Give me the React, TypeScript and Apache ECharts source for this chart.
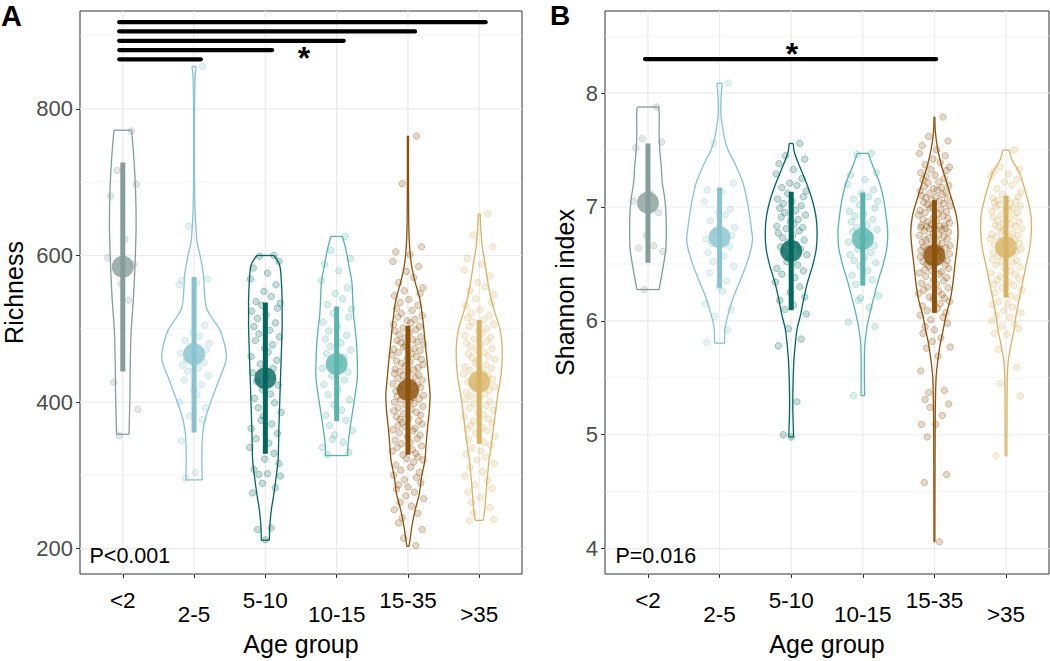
import React, { useEffect, useRef } from 'react';
import * as echarts from 'echarts';

const CATEGORIES = ['<2', '2-5', '5-10', '10-15', '15-35', '>35'];
const COLORS = ['#869E99', '#8AC3CF', '#01665E', '#5AB4AC', '#8C510A', '#D8B365'];
const FONT = "'Liberation Sans', Arial, Helvetica, sans-serif";

// Panel A (Richness)
const A_Y_TICKS = [200, 400, 600, 800];
const A_Y_MINOR = [300, 500, 700, 900];
const A_MEAN = [584.7, 465.1, 432.5, 452, 416.3, 427.7];
const A_LO = [441.6, 358.5, 329.5, 373.8, 328.1, 343];
const A_HI = [726.8, 570.6, 535.9, 530.4, 504, 511.9];
const A_SIG = [[0.95, 6.09, 918.4], [0.95, 5.1, 905.8], [0.95, 4.1, 893], [0.95, 3.095, 880.4], [0.95, 2.095, 867.8]];

const VA_LT2 = [[771, 0.124], [731, 0.157], [686, 0.18], [641, 0.187], [596, 0.175], [551, 0.155], [528, 0.14], [496, 0.117], [451, 0.105], [406, 0.1], [356, 0.087]];
const VA_2_5 = [[857.9, 0.03], [845, 0.015], [800, 0.007], [700, 0.007], [660, 0.015], [640, 0.025], [619, 0.042], [596, 0.093], [573, 0.133], [550, 0.145], [528, 0.175], [515, 0.25], [496, 0.374], [460, 0.453], [428, 0.34], [406, 0.257], [383, 0.175], [361, 0.126], [338, 0.112], [315, 0.11], [293.7, 0.115]];
const VA_5_10 = [[600, 0.12], [587, 0.2], [564, 0.225], [541, 0.235], [519, 0.235], [500, 0.235], [455, 0.22], [410, 0.205], [365, 0.19], [320, 0.178], [297, 0.15], [275, 0.12], [252, 0.083], [230, 0.062], [211.4, 0.057]];
const VA_10_15 = [[626, 0.08], [609, 0.128], [587, 0.17], [564, 0.213], [541, 0.225], [519, 0.237], [500, 0.26], [478, 0.28], [455, 0.29], [433, 0.29], [410, 0.26], [388, 0.225], [365, 0.19], [342, 0.16], [327, 0.156]];
const VA_15_35 = [[763, 0.008], [700, 0.008], [640, 0.012], [610, 0.025], [587, 0.05], [564, 0.1], [541, 0.166], [519, 0.2], [500, 0.223], [478, 0.245], [455, 0.27], [433, 0.29], [410, 0.31], [388, 0.3], [365, 0.275], [342, 0.255], [320, 0.237], [297, 0.19], [275, 0.16], [252, 0.1], [230, 0.055], [211, 0.028], [203, 0.015]];
const VA_GT35 = [[656.7, 0.014], [632, 0.024], [609, 0.047], [587, 0.085], [564, 0.12], [541, 0.166], [519, 0.23], [500, 0.29], [478, 0.32], [455, 0.32], [433, 0.3], [410, 0.26], [388, 0.23], [365, 0.2], [342, 0.17], [320, 0.137], [297, 0.114], [275, 0.095], [252, 0.076], [238.5, 0.055]];

const A_LT2 = [770, 716, 697, 681, 622, 597, 588, 561, 539, 427, 390, 354];
const A_2_5 = [858, 640, 568, 566, 563, 560, 505, 495, 490, 484, 480, 476, 471, 467, 462, 458, 454, 450, 446, 442, 436, 430, 424, 416, 410, 400, 392, 381, 376, 347, 304, 296];
const A_5_10 = [600, 599, 592, 583, 576, 568, 560, 551, 544, 537, 535, 532, 528, 524, 519, 514, 508, 503, 498, 493, 489, 484, 478, 473, 468, 462, 457, 452, 446, 440, 434, 428, 423, 417, 411, 405, 399, 392, 386, 381, 375, 370, 364, 357, 350, 344, 338, 330, 322, 316, 308, 302, 301, 299, 289, 283, 276, 228, 226, 212];
const A_10_15 = [626, 607, 596, 588, 579, 566, 556, 548, 541, 533, 527, 521, 516, 509, 503, 497, 491, 486, 481, 476, 471, 466, 461, 456, 451, 446, 441, 436, 430, 424, 417, 410, 403, 396, 389, 382, 375, 368, 361, 355, 349, 345, 338, 331, 328];
const A_15_35 = [763, 698, 612, 605, 601, 592, 585, 578, 570, 563, 556, 552, 548, 545, 540, 536, 532, 528, 525, 521,
  518, 516, 513, 511, 508, 506, 503, 501, 499, 497, 494, 492, 489, 487, 485, 484, 482, 481,
  479, 477, 475, 473, 472, 470, 468, 466, 464, 462, 460, 458, 456, 455, 453, 451, 449, 447, 445, 444, 442, 441,
  439, 437, 436, 434, 432, 430, 429, 427, 425, 423, 422, 420, 418, 416, 415, 413, 411, 409, 408, 406, 404, 403, 401, 400,
  398, 396, 394, 392, 390, 388, 386, 384, 382, 380, 378, 376, 374, 372, 370, 368, 366, 364, 362, 361,
  358, 355, 353, 350, 348, 345, 343, 340, 338, 335, 333, 330, 328, 325, 323, 321,
  318, 314, 311, 307, 304, 300, 297, 294, 290, 287, 284, 281, 277, 272, 268, 263, 258, 253, 248, 242, 235, 226, 214, 204];
const A_GT35 = [657, 628, 612, 596, 588, 580, 572, 563, 557, 552, 547, 541, 536, 531, 526, 521,
  518, 515, 512, 509, 506, 503, 500, 497, 494, 491, 488, 486, 483, 481,
  478, 476, 473, 471, 468, 466, 463, 461, 458, 456, 453, 451, 448, 446, 443, 441,
  438, 436, 433, 431, 428, 426, 423, 421, 418, 416, 413, 411, 408, 406, 403, 401,
  398, 395, 392, 389, 386, 383, 380, 377, 374, 371, 368, 365, 363, 361,
  357, 353, 349, 345, 341, 337, 333, 329, 325, 321, 316, 311, 305, 299, 293, 287, 282, 277, 270, 263, 256, 249, 240, 238];

// Panel B (Shannon index)
const B_Y_TICKS = [4, 5, 6, 7, 8];
const B_Y_MINOR = [4.5, 5.5, 6.5, 7.5, 8.5];
const B_MEAN = [7.037, 6.735, 6.613, 6.72, 6.574, 6.647];
const B_LO = [6.51, 6.29, 6.094, 6.31, 6.07, 6.205];
const B_HI = [7.558, 7.171, 7.133, 7.127, 7.06, 7.098];
const B_SIG = [[0.958, 5.024, 8.299]];

const VB_LT2 = [[7.878, 0.15], [7.8, 0.158], [7.65, 0.155], [7.5, 0.165], [7.36, 0.185], [7.215, 0.2], [7.07, 0.235], [6.924, 0.253], [6.778, 0.255], [6.633, 0.25], [6.487, 0.215], [6.342, 0.175], [6.275, 0.155]];
const VB_2_5 = [[8.087, 0.037], [8.0, 0.025], [7.9, 0.018], [7.8, 0.02], [7.71, 0.04], [7.6, 0.07], [7.505, 0.116], [7.36, 0.23], [7.215, 0.325], [7.07, 0.38], [6.924, 0.42], [6.778, 0.45], [6.72, 0.46], [6.633, 0.44], [6.487, 0.37], [6.342, 0.28], [6.197, 0.186], [6.05, 0.116], [5.935, 0.077], [5.804, 0.07]];
const VB_5_10 = [[7.558, 0.028], [7.476, 0.046], [7.36, 0.116], [7.215, 0.21], [7.07, 0.29], [6.924, 0.344], [6.778, 0.362], [6.633, 0.35], [6.487, 0.3], [6.342, 0.23], [6.197, 0.176], [6.05, 0.13], [5.935, 0.084], [5.79, 0.056], [5.644, 0.037], [5.5, 0.028], [5.353, 0.023], [5.208, 0.023], [5.06, 0.03], [4.98, 0.033]];
const VB_10_15 = [[7.471, 0.077], [7.36, 0.14], [7.215, 0.232], [7.07, 0.29], [6.924, 0.325], [6.778, 0.348], [6.633, 0.334], [6.487, 0.28], [6.342, 0.21], [6.197, 0.15], [6.05, 0.093], [5.935, 0.056], [5.79, 0.028], [5.644, 0.023], [5.5, 0.023], [5.344, 0.025]];
const VB_15_35 = [[7.79, 0.005], [7.65, 0.015], [7.505, 0.046], [7.36, 0.1], [7.217, 0.17], [7.07, 0.24], [6.923, 0.306], [6.78, 0.33], [6.633, 0.313], [6.487, 0.285], [6.34, 0.26], [6.197, 0.225], [6.05, 0.163], [5.9, 0.116], [5.79, 0.079], [5.644, 0.046], [5.5, 0.023], [5.2, 0.012], [4.8, 0.009], [4.4, 0.007], [4.06, 0.006]];
const VB_GT35 = [[7.5, 0.046], [7.42, 0.08], [7.3, 0.186], [7.217, 0.232], [7.07, 0.3], [6.923, 0.348], [6.78, 0.353], [6.633, 0.33], [6.487, 0.28], [6.34, 0.232], [6.197, 0.186], [6.05, 0.14], [5.935, 0.116], [5.79, 0.07], [5.644, 0.03], [5.5, 0.018], [5.3, 0.014], [4.815, 0.012]];

const B_LT2 = [7.878, 7.6, 7.57, 7.52, 7.12, 7.05, 6.95, 6.75, 6.66, 6.64, 6.61, 6.275];
const B_2_5 = [8.087, 7.56, 7.21, 7.15, 7.13, 7.05, 6.98, 6.95, 6.93, 6.88, 6.82, 6.78, 6.75, 6.72, 6.7, 6.68, 6.65, 6.6, 6.57, 6.52, 6.48, 6.42, 6.35, 6.3, 6.26, 6.15, 6.1, 6.04, 5.92, 5.81];
const B_5_10 = [7.558, 7.45, 7.42, 7.38, 7.33, 7.29, 7.25, 7.21, 7.19, 7.17, 7.14, 7.12, 7.09, 7.07, 7.05, 7.03, 7.01,
  6.99, 6.97, 6.95, 6.93, 6.91, 6.89, 6.87, 6.85, 6.83, 6.82, 6.81, 6.79, 6.77, 6.75, 6.73, 6.71, 6.69, 6.67, 6.65, 6.63, 6.61,
  6.58, 6.55, 6.52, 6.49, 6.46, 6.44, 6.41, 6.38, 6.34, 6.3, 6.25, 6.21, 6.18, 6.14, 6.1, 6.06, 5.93, 5.84, 5.78, 5.29, 5.0, 4.98];
const B_10_15 = [7.471, 7.46, 7.3, 7.28, 7.24, 7.2, 7.15, 7.12, 7.09, 7.07, 7.05, 7.02, 6.99, 6.96, 6.94, 6.92,
  6.89, 6.87, 6.84, 6.82, 6.8, 6.78, 6.75, 6.73, 6.71, 6.69, 6.66, 6.63, 6.6, 6.58, 6.55, 6.53, 6.51,
  6.48, 6.44, 6.4, 6.36, 6.32, 6.22, 6.2, 6.18, 6.12, 5.99, 5.95, 5.344];
const B_15_35 = [7.79, 7.62, 7.58, 7.54, 7.5, 7.47, 7.45, 7.42,
  7.39, 7.37, 7.35, 7.33, 7.32, 7.3, 7.28, 7.27, 7.25, 7.24, 7.22, 7.21,
  7.19, 7.18, 7.17, 7.16, 7.15, 7.14, 7.13, 7.12, 7.11, 7.1, 7.09, 7.08, 7.07, 7.06, 7.05, 7.04, 7.03, 7.02, 7.01, 7.0,
  6.99, 6.98, 6.97, 6.96, 6.95, 6.94, 6.93, 6.92, 6.91, 6.9, 6.89, 6.88, 6.87, 6.86, 6.85, 6.84, 6.84, 6.83, 6.83, 6.82, 6.82, 6.81, 6.81, 6.8,
  6.79, 6.78, 6.77, 6.76, 6.75, 6.74, 6.73, 6.72, 6.71, 6.7, 6.69, 6.68, 6.67, 6.66, 6.65, 6.64, 6.64, 6.63, 6.62, 6.62, 6.61, 6.6,
  6.59, 6.58, 6.57, 6.56, 6.55, 6.54, 6.53, 6.52, 6.51, 6.5, 6.49, 6.48, 6.46, 6.45, 6.44, 6.43, 6.42, 6.41,
  6.39, 6.38, 6.36, 6.35, 6.33, 6.32, 6.3, 6.29, 6.27, 6.26, 6.24, 6.23, 6.21, 6.2,
  6.19, 6.17, 6.15, 6.13, 6.11, 6.09, 6.07, 6.05, 6.03, 6.01, 5.98, 5.95, 5.92, 5.89, 5.85, 5.82,
  5.77, 5.76, 5.69, 5.56, 5.39, 5.37, 5.31, 5.27, 5.24, 5.17, 5.09, 5.09, 4.98, 4.65, 4.58, 4.06];
const B_GT35 = [7.5, 7.35, 7.33, 7.31, 7.29, 7.27, 7.24, 7.22, 7.19, 7.16, 7.13, 7.11,
  7.09, 7.08, 7.07, 7.06, 7.05, 7.04, 7.03, 7.02, 7.01, 7.0, 6.99, 6.98, 6.97, 6.96, 6.95, 6.93, 6.92, 6.91,
  6.89, 6.88, 6.87, 6.86, 6.85, 6.84, 6.83, 6.82, 6.81, 6.8, 6.79, 6.77, 6.76, 6.75, 6.74, 6.73, 6.72, 6.71,
  6.69, 6.68, 6.67, 6.66, 6.65, 6.63, 6.62, 6.61, 6.6, 6.58, 6.57, 6.56, 6.54, 6.53, 6.52, 6.51,
  6.49, 6.47, 6.46, 6.44, 6.42, 6.41, 6.39, 6.37, 6.36, 6.34, 6.32, 6.31,
  6.29, 6.27, 6.25, 6.22, 6.2, 6.17, 6.15, 6.14, 6.12, 6.09, 6.07, 6.05, 6.03, 6.0, 5.97, 5.95, 5.93,
  5.89, 5.88, 5.75, 5.59, 5.45, 5.34, 4.815];

// horizontal jitter offsets (position noise, in category units)
const JITTER = [
  0.12, -0.08, 0.19, -0.17, 0.03, -0.21, 0.15, -0.02, 0.08, -0.13,
  0.21, -0.05, 0.17, -0.19, 0.01, -0.11, 0.14, -0.16, 0.06, -0.09,
  0.2, -0.14, 0.1, -0.01, 0.04, -0.2, 0.16, -0.07, 0.11, -0.18,
  0.02, -0.12, 0.18, -0.04, 0.07, -0.15, 0.13, -0.1, 0.22, -0.03,
  -0.06, 0.09, -0.2, 0.17, -0.13, 0.05, -0.22, 0.12, -0.01, 0.19,
  -0.16, 0.03, -0.09, 0.21, -0.04, 0.14, -0.18, 0.08, -0.11, 0.0,
  -0.19, 0.15, -0.07, 0.1, -0.14, 0.2, -0.02, 0.06, -0.21, 0.13,
  -0.08, 0.18, -0.12, 0.04, -0.17, 0.11, -0.05, 0.22, -0.15, 0.07,
  0.16, -0.1, 0.02, -0.19, 0.09, -0.03, 0.21, -0.13, 0.05, -0.2,
  0.12, -0.06, 0.18, -0.16, 0.01, -0.11, 0.15, -0.08, 0.2, -0.14,
  -0.04, 0.1, -0.21, 0.07, -0.12, 0.17, -0.01, 0.13, -0.18, 0.03,
  -0.09, 0.19, -0.15, 0.06, -0.22, 0.11, -0.07, 0.14, -0.02, 0.21,
  0.08, -0.17, 0.04, -0.1, 0.16, -0.2, 0.12, -0.05, 0.18, -0.13,
  0.0, -0.16, 0.09, -0.03, 0.22, -0.11, 0.05, -0.19, 0.14, -0.08,
  -0.13, 0.2, -0.06, 0.11, -0.18, 0.02, -0.1, 0.17, -0.14, 0.07,
  0.15, -0.21, 0.03, -0.07, 0.19, -0.12, 0.1, -0.04, 0.13, -0.17
];

function rgba(hex: string, a: number) {
  const n = parseInt(hex.slice(1), 16);
  return `rgba(${(n >> 16) & 255},${(n >> 8) & 255},${n & 255},${a})`;
}

function buildPanel(p: any) {
  const { xi, yi, yMin, yMax, ticks, minor, violins, points, mean, lo, hi, sig, star, pText, pPos } = p;
  const series: any[] = [];
  // grid lines
  series.push({
    type: 'custom', xAxisIndex: xi, yAxisIndex: yi, z: 1, silent: true, clip: false,
    data: [[3.5, (yMin + yMax) / 2]],
    renderItem: (params: any, api: any) => {
      const children: any[] = [];
      minor.forEach((v: number) => {
        if (v < yMin || v > yMax) return;
        const a = api.coord([0.4, v]); const b = api.coord([6.6, v]);
        children.push({ type: 'line', shape: { x1: a[0], y1: a[1], x2: b[0], y2: b[1] }, style: { stroke: '#EBEBEB', lineWidth: 0.6 } });
      });
      ticks.forEach((v: number) => {
        const a = api.coord([0.4, v]); const b = api.coord([6.6, v]);
        children.push({ type: 'line', shape: { x1: a[0], y1: a[1], x2: b[0], y2: b[1] }, style: { stroke: '#EBEBEB', lineWidth: 1.2 } });
      });
      for (let g = 1; g <= 6; g++) {
        const a = api.coord([g, yMin]); const b = api.coord([g, yMax]);
        children.push({ type: 'line', shape: { x1: a[0], y1: a[1], x2: b[0], y2: b[1] }, style: { stroke: '#EBEBEB', lineWidth: 1.2 } });
      }
      return { type: 'group', children };
    }
  });
  // violins
  series.push({
    type: 'custom', xAxisIndex: xi, yAxisIndex: yi, z: 2, silent: true,
    data: CATEGORIES.map((_, i) => [i + 1, mean[i]]),
    renderItem: (params: any, api: any) => {
      const i = params.dataIndex; const g = i + 1; const prof = violins[i];
      const left = prof.map((d: number[]) => api.coord([g - d[1], d[0]]));
      const right = prof.map((d: number[]) => api.coord([g + d[1], d[0]]));
      const st = { stroke: COLORS[i], lineWidth: 1.3, fill: 'none' };
      const n = prof.length - 1;
      return {
        type: 'group', children: [
          { type: 'polyline', shape: { points: left, smooth: 0.3 }, style: st },
          { type: 'polyline', shape: { points: right, smooth: 0.3 }, style: st },
          { type: 'line', shape: { x1: left[0][0], y1: left[0][1], x2: right[0][0], y2: right[0][1] }, style: st },
          { type: 'line', shape: { x1: left[n][0], y1: left[n][1], x2: right[n][0], y2: right[n][1] }, style: st }
        ]
      };
    }
  });
  // jittered points
  points.forEach((ys: number[], i: number) => {
    series.push({
      type: 'scatter', xAxisIndex: xi, yAxisIndex: yi, z: 3, silent: true, symbolSize: 6.5,
      itemStyle: { color: rgba(COLORS[i], 0.28), borderColor: rgba(COLORS[i], 0.5), borderWidth: 0.8 },
      data: ys.map((y, k) => [i + 1 + JITTER[k % JITTER.length], y])
    });
  });
  // error bars
  series.push({
    type: 'custom', xAxisIndex: xi, yAxisIndex: yi, z: 4, silent: true,
    encode: { x: 0, y: [1, 2] },
    data: CATEGORIES.map((_, i) => [i + 1, lo[i], hi[i]]),
    renderItem: (params: any, api: any) => {
      const a = api.coord([api.value(0), api.value(1)]);
      const b = api.coord([api.value(0), api.value(2)]);
      return { type: 'line', shape: { x1: a[0], y1: a[1], x2: b[0], y2: b[1] }, style: { stroke: COLORS[params.dataIndex], lineWidth: 5 } };
    }
  });
  // means
  series.push({
    type: 'scatter', xAxisIndex: xi, yAxisIndex: yi, z: 5, silent: true, symbolSize: 22,
    data: CATEGORIES.map((_, i) => ({ value: [i + 1, mean[i]], itemStyle: { color: COLORS[i] } }))
  });
  // significance bars
  series.push({
    type: 'custom', xAxisIndex: xi, yAxisIndex: yi, z: 6, silent: true, clip: false,
    encode: { x: [0, 1], y: 2 },
    data: sig,
    renderItem: (params: any, api: any) => {
      const a = api.coord([api.value(0), api.value(2)]);
      const b = api.coord([api.value(1), api.value(2)]);
      return { type: 'line', shape: { x1: a[0], y1: a[1], x2: b[0], y2: b[1] }, style: { stroke: '#000', lineWidth: 4.2, lineCap: 'round' } };
    }
  });
  // texts
  series.push({
    type: 'custom', xAxisIndex: xi, yAxisIndex: yi, z: 7, silent: true, clip: false,
    data: [[star[0], star[1], 0], [pPos[0], pPos[1], 1]],
    renderItem: (params: any, api: any) => {
      const c = api.coord([api.value(0), api.value(1)]);
      if (params.dataIndex === 0) {
        return { type: 'text', x: c[0], y: c[1], style: { text: '*', fontSize: 32, fontWeight: 'bold', fill: '#000', fontFamily: FONT, align: 'center', verticalAlign: 'middle' } };
      }
      return { type: 'text', x: c[0], y: c[1], style: { text: pText, fontSize: 21.5, fill: '#000', fontFamily: FONT, align: 'left', verticalAlign: 'middle' } };
    }
  });
  return series;
}

function xAxes(gi: number, withName: boolean) {
  const base = {
    gridIndex: gi, type: 'value', min: 0.4, max: 6.6, position: 'bottom',
    axisLine: { show: false }, splitLine: { show: false }
  };
  return [
    {
      ...base,
      axisTick: { show: true, customValues: [1, 2, 3, 4, 5, 6], length: 4, lineStyle: { color: '#333', width: 1 } },
      axisLabel: { customValues: [1, 3, 5], formatter: (v: number) => CATEGORIES[Math.round(v) - 1], fontSize: 22.5, color: '#000', margin: 15, fontFamily: FONT },
      name: withName ? 'Age group' : '', nameLocation: 'middle', nameGap: 57,
      nameTextStyle: { fontSize: 25, color: '#000', fontFamily: FONT }
    },
    {
      ...base,
      axisTick: { show: false },
      axisLabel: { customValues: [2, 4, 6], formatter: (v: number) => CATEGORIES[Math.round(v) - 1], fontSize: 22.5, color: '#000', margin: 29, fontFamily: FONT }
    }
  ];
}

function yAxis(gi: number, min: number, max: number, ticks: number[], name: string, nameGap: number) {
  return {
    gridIndex: gi, type: 'value', min, max,
    axisLine: { show: false }, splitLine: { show: false },
    axisTick: { show: true, customValues: ticks, length: 4, lineStyle: { color: '#333', width: 1 } },
    axisLabel: { customValues: ticks, fontSize: 22, color: '#4d4d4d', margin: 7, fontFamily: FONT },
    name, nameLocation: 'middle', nameGap,
    nameTextStyle: { fontSize: 25, color: '#000', fontFamily: FONT }
  };
}

export default function App() {
  const ref = useRef<HTMLDivElement>(null);
  useEffect(() => {
    const chart = echarts.init(ref.current as HTMLDivElement, null, { renderer: 'svg' });
    const seriesA = buildPanel({
      xi: 0, yi: 0, yMin: 165.3, yMax: 933.7, ticks: A_Y_TICKS, minor: A_Y_MINOR,
      violins: [VA_LT2, VA_2_5, VA_5_10, VA_10_15, VA_15_35, VA_GT35],
      points: [A_LT2, A_2_5, A_5_10, A_10_15, A_15_35, A_GT35],
      mean: A_MEAN, lo: A_LO, hi: A_HI, sig: A_SIG, star: [3.54, 870], pText: 'P<0.001', pPos: [0.533, 190]
    });
    const seriesB = buildPanel({
      xi: 2, yi: 1, yMin: 3.777, yMax: 8.721, ticks: B_Y_TICKS, minor: B_Y_MINOR,
      violins: [VB_LT2, VB_2_5, VB_5_10, VB_10_15, VB_15_35, VB_GT35],
      points: [B_LT2, B_2_5, B_5_10, B_10_15, B_15_35, B_GT35],
      mean: B_MEAN, lo: B_LO, hi: B_HI, sig: B_SIG, star: [3.01, 8.346], pText: 'P=0.016', pPos: [0.545, 3.935]
    });
    chart.setOption({
      animation: false,
      backgroundColor: '#fff',
      textStyle: { fontFamily: FONT },
      grid: [
        { left: 80, top: 11, width: 442, height: 567, show: true, borderColor: '#333', borderWidth: 1, backgroundColor: '#fff' },
        { left: 605, top: 11, width: 444, height: 567, show: true, borderColor: '#333', borderWidth: 1, backgroundColor: '#fff' }
      ],
      xAxis: [...xAxes(0, true), ...xAxes(1, true)],
      yAxis: [
        yAxis(0, 165.3, 933.7, A_Y_TICKS, 'Richness', 54),
        yAxis(1, 3.777, 8.721, B_Y_TICKS, 'Shannon index', 28)
      ],
      graphic: [
        { type: 'text', x: 1, y: 1, style: { text: 'A', fontSize: 29, lineHeight: 29, fontWeight: 'bold', fill: '#000', fontFamily: FONT, align: 'left', verticalAlign: 'top' } },
        { type: 'text', x: 550, y: 1, style: { text: 'B', fontSize: 28, lineHeight: 28, fontWeight: 'bold', fill: '#000', fontFamily: FONT, align: 'left', verticalAlign: 'top' } }
      ],
      series: [...seriesA, ...seriesB]
    });
    return () => chart.dispose();
  }, []);
  return <div ref={ref} style={{ position: 'fixed', left: 0, top: 0, width: 1050, height: 661, background: '#fff' }} />;
}
